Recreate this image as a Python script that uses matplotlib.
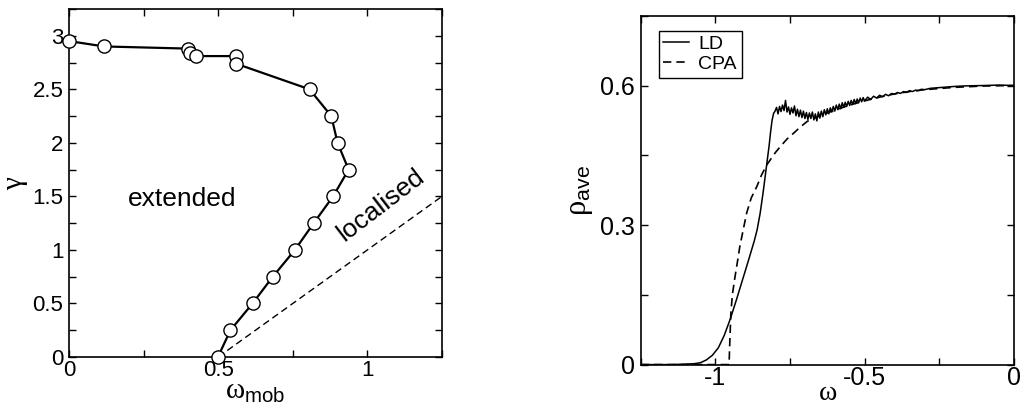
import numpy as np
import matplotlib
matplotlib.use("Agg")
import matplotlib.pyplot as plt
from matplotlib.ticker import MultipleLocator, FuncFormatter

plt.rcParams['font.family'] = ['Liberation Sans', 'DejaVu Sans']
plt.rcParams['mathtext.fontset'] = 'custom'
plt.rcParams['mathtext.rm'] = 'Liberation Serif'
plt.rcParams['mathtext.sf'] = 'Liberation Sans'
plt.rcParams['mathtext.it'] = 'Liberation Serif:italic'

# --- left panel: mobility edge ---
w_mob = [0.0, 0.118, 0.398, 0.404, 0.427, 0.558, 0.559, 0.806, 0.879, 0.900,
         0.937, 0.885, 0.820, 0.757, 0.683, 0.615, 0.541, 0.499]
gamma = [2.95, 2.90, 2.88, 2.84, 2.81, 2.81, 2.74, 2.50, 2.25, 2.00,
         1.75, 1.50, 1.25, 1.00, 0.75, 0.50, 0.25, 0.0]
band_x = [0.5, 1.25]
band_y = [0.0, 1.5]

# --- right panel: averaged DOS ---
ld_x = [-1.25, -1.15, -1.10, -1.07, -1.05, -1.03, -1.01, -0.99, -0.97, -0.95,
        -0.93, -0.91, -0.89, -0.87, -0.86, -0.85, -0.84, -0.83, -0.82, -0.815,
        -0.81, -0.805,
        -0.800, -0.795, -0.790, -0.785, -0.780, -0.775, -0.770, -0.765, -0.760, -0.755,
        -0.750, -0.745, -0.740, -0.735, -0.730, -0.725, -0.720, -0.715, -0.710, -0.705,
        -0.700, -0.695, -0.690, -0.685, -0.680, -0.675, -0.670, -0.665, -0.660, -0.655,
        -0.650, -0.645, -0.640, -0.635, -0.630, -0.625, -0.620, -0.615, -0.610, -0.605,
        -0.600, -0.595, -0.590, -0.585, -0.580, -0.575, -0.570, -0.565, -0.560, -0.555,
        -0.550, -0.545, -0.540, -0.535, -0.530, -0.525, -0.520, -0.515, -0.510, -0.505,
        -0.500, -0.49, -0.48, -0.47, -0.46, -0.45, -0.44, -0.43, -0.42, -0.41,
        -0.40, -0.39, -0.38, -0.37, -0.36, -0.35, -0.34, -0.33, -0.32, -0.31,
        -0.30, -0.28, -0.26, -0.24, -0.22, -0.20, -0.17, -0.14, -0.10, -0.05, 0.0]
ld_y = [0.0, 0.0, 0.001, 0.002, 0.004, 0.010, 0.020, 0.036, 0.063, 0.098,
        0.138, 0.180, 0.222, 0.265, 0.290, 0.325, 0.370, 0.420, 0.470, 0.500,
        0.525, 0.540,
        0.545, 0.553, 0.539, 0.555, 0.544, 0.558, 0.546, 0.568, 0.543, 0.554,
        0.538, 0.552, 0.541, 0.556, 0.535, 0.549, 0.533, 0.547, 0.531, 0.545,
        0.529, 0.542, 0.527, 0.541, 0.529, 0.543, 0.526, 0.539, 0.524, 0.543,
        0.530, 0.545, 0.533, 0.548, 0.537, 0.550, 0.539, 0.552, 0.543, 0.555,
        0.545, 0.558, 0.548, 0.560, 0.550, 0.563, 0.553, 0.564, 0.555, 0.566,
        0.557, 0.568, 0.559, 0.570, 0.561, 0.571, 0.563, 0.573, 0.565, 0.574,
        0.567, 0.575, 0.570, 0.577, 0.573, 0.579, 0.576, 0.581, 0.578, 0.583,
        0.581, 0.585, 0.583, 0.587, 0.585, 0.589, 0.587, 0.590, 0.589, 0.592,
        0.591, 0.594, 0.595, 0.596, 0.597, 0.598, 0.599, 0.5995, 0.600, 0.601, 0.600]

cpa_x = [-1.25, -0.954, -0.952, -0.948, -0.943, -0.935, -0.925, -0.918, -0.905, -0.895,
         -0.88, -0.861, -0.845, -0.827, -0.80, -0.782, -0.76, -0.737, -0.715, -0.692,
         -0.65, -0.60, -0.55, -0.50, -0.45, -0.40, -0.35, -0.30, -0.20, -0.10, 0.0]
cpa_y = [0.0, 0.0, 0.04, 0.11, 0.15, 0.185, 0.225, 0.254, 0.295, 0.326,
         0.358, 0.383, 0.408, 0.430, 0.455, 0.469, 0.485, 0.498, 0.511, 0.523,
         0.535, 0.547, 0.558, 0.567, 0.575, 0.582, 0.587, 0.591, 0.596, 0.599, 0.600]


def style_axes(ax, size):
    for s in ax.spines.values():
        s.set_linewidth(1.2)
    ax.tick_params(which='both', direction='in', top=True, right=True,
                   length=5, width=1, labelsize=size, pad=4)


fig = plt.figure(figsize=(10.21, 4.08), dpi=100)

# left panel
ax1 = fig.add_axes([0.0676, 0.125, 0.3653, 0.853])
ax1.plot(band_x, band_y, 'k--', lw=1, dashes=(5, 3))
ax1.plot(w_mob, gamma, '-o', color='black', lw=1.6, ms=9.5,
         markerfacecolor='white', markeredgecolor='black', markeredgewidth=1, clip_on=False, zorder=3)
ax1.set_xlim(0, 1.25)
ax1.set_ylim(0, 3.25)
ax1.xaxis.set_major_locator(MultipleLocator(0.5))
ax1.xaxis.set_minor_locator(MultipleLocator(0.25))
ax1.yaxis.set_major_locator(MultipleLocator(0.5))
ax1.yaxis.set_minor_locator(MultipleLocator(0.25))
ax1.xaxis.set_major_formatter(FuncFormatter(lambda v, p: f"{v:g}"))
ax1.yaxis.set_major_formatter(FuncFormatter(lambda v, p: f"{v:g}"))
style_axes(ax1, 16)
ax1.tick_params(axis='x', pad=2)
ax1.set_xlabel(r'$\mathrm{ω}_{\mathsf{mob}}$', fontsize=21, labelpad=-3)
ax1.set_ylabel(r'$\mathrm{γ}$', fontsize=21, labelpad=2)
ax1.text(0.378, 1.48, 'extended', fontsize=19, ha='center', va='center')
ax1.text(1.044, 1.42, 'localised', fontsize=19, ha='center', va='center', rotation=37.5)

# right panel
ax2 = fig.add_axes([0.6275, 0.1064, 0.3656, 0.855])
ax2.plot(ld_x, ld_y, 'k-', lw=1.1, label='LD')
ax2.plot(cpa_x, cpa_y, 'k--', lw=1.2, dashes=(5, 3), label='CPA')
ax2.set_xlim(-1.25, 0)
ax2.set_ylim(0, 0.75)
ax2.xaxis.set_major_locator(MultipleLocator(0.5))
ax2.xaxis.set_minor_locator(MultipleLocator(0.25))
ax2.yaxis.set_major_locator(MultipleLocator(0.3))
ax2.yaxis.set_minor_locator(MultipleLocator(0.15))
ax2.xaxis.set_major_formatter(FuncFormatter(lambda v, p: f"{v:g}".replace('\u2212', '-')))
ax2.yaxis.set_major_formatter(FuncFormatter(lambda v, p: f"{v:g}"))
style_axes(ax2, 18)
ax2.tick_params(axis='x', pad=1)
ax2.set_xlabel(r'$\mathrm{ω}$', fontsize=20, labelpad=-7)
ax2.set_ylabel(r'$\mathrm{ρ}_{\mathsf{ave}}$', fontsize=22, labelpad=4)
leg = ax2.legend(loc='upper left', bbox_to_anchor=(0.048, 0.957), borderaxespad=0,
                 fontsize=14, handlelength=1.3, handletextpad=0.5, borderpad=0.25,
                 labelspacing=0.1, fancybox=False, framealpha=1)
leg.get_frame().set_edgecolor('black')
leg.get_frame().set_linewidth(1)

fig.savefig('out.png', dpi=100)
